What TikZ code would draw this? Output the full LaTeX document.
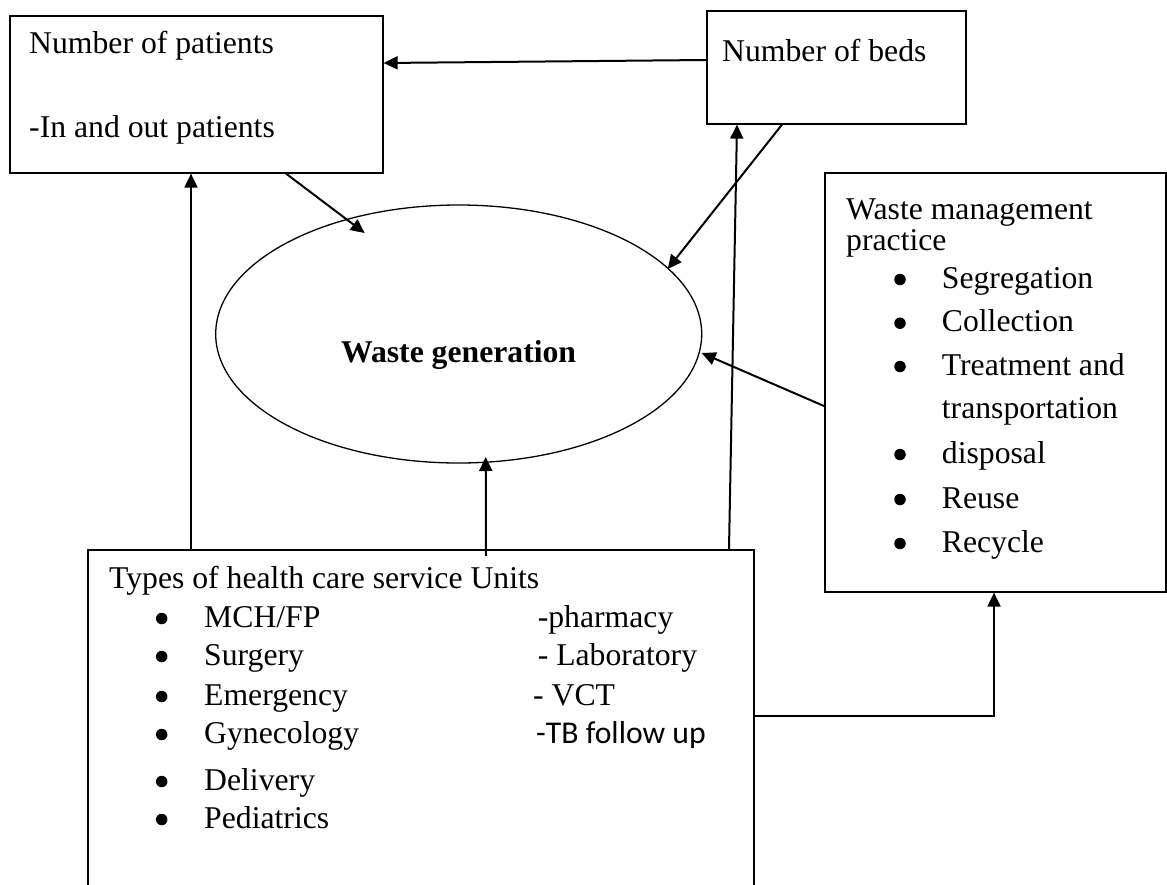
\documentclass[tikz,border=0pt]{standalone}
\usepackage{fontspec}
\setmainfont{Liberation Serif}
\newfontfamily\calibrifont{Carlito}
\usetikzlibrary{arrows.meta,shapes.geometric,calc}

\begin{document}
\begin{tikzpicture}[x=1pt,y=-1pt,
  box/.style={draw, line width=1.6pt, inner sep=0, anchor=north west},
  txt/.style={anchor=base west, inner sep=0, font=\fontsize{31.7}{38}\selectfont},
  arr/.style={line width=2pt, -{Triangle[length=14pt,width=13pt]}},
  bul/.style={circle, fill, inner sep=0, minimum size=11.5pt}]
\useasboundingbox (0,0) rectangle (1167,884);
\clip (0,0) rectangle (1167,884);

% boxes
\node[box, minimum width=373pt, minimum height=157pt] (pat) at (9,15) {};
\node[box, minimum width=259pt, minimum height=113pt] (beds) at (706,10) {};
\node[box, minimum width=341pt, minimum height=419pt] (wmp) at (824,172) {};
\node[box, minimum width=666pt, minimum height=400pt] (units) at (87,549) {};
\node[draw, ellipse, line width=1.3pt, inner sep=0,
      minimum width=486pt, minimum height=258pt] (gen) at (458.7,334) {};

% number of patients
\node[txt] (patA) at (29,53) {Number of patients};
\node[txt] (patB) at (29,137) {-In and out patients};

% number of beds
\node[txt] (bedsA) at (722,61) {Number of beds};

% waste generation
\node[txt, anchor=base, font=\fontsize{31.7}{38}\selectfont\bfseries] (genT) at (458.6,362) {Waste generation};

% waste management practice
\node[txt] (wmpA) at (846,219.5) {Waste management};
\node[txt] (wmpB) at (846,250) {practice};
\node[txt] (w1) at (941.7,288) {Segregation};
\node[txt] (w2) at (941.7,331.7) {Collection};
\node[txt] (w3) at (941.7,375) {Treatment and};
\node[txt] (w3b) at (941.7,418) {transportation};
\node[txt] (w4) at (941.7,463) {disposal};
\node[txt] (w5) at (941.7,508) {Reuse};
\node[txt] (w6) at (941.7,552) {Recycle};
\foreach \y [count=\i] in {288,331.7,375,463,508,552}
  \node[bul] (wb\i) at (900,\y-8.5) {};

% types of health care service units
\node[txt] (uT) at (109,588) {Types of health care service Units};
\node[txt] (u1) at (204,627) {MCH/FP};
\node[txt] (u2) at (204,665) {Surgery};
\node[txt] (u3) at (204,705) {Emergency};
\node[txt] (u4) at (204,743) {Gynecology};
\node[txt] (u5) at (204,790) {Delivery};
\node[txt] (u6) at (204,828) {Pediatrics};
\foreach \y [count=\i] in {627,665,705,743,790,828}
  \node[bul] (ub\i) at (161.7,\y-8.5) {};
\node[txt] (r1) at (537.6,627) {-pharmacy};
\node[txt] (r2) at (537.6,665) {- Laboratory};
\node[txt] (r3) at (533,705) {- VCT};
\node[txt, font=\fontsize{31.7}{38}\calibrifont] (r4) at (536,743) {-TB follow up};

% connectors
\draw[arr] ($(beds.north west)+(0,50)$) -- ($(pat.north east)+(0,48)$);
\draw[arr] ($(beds.south west)+(76,0)$) -- ($(gen.center)+(209,-65)$);
\draw[arr] ($(units.north west)+(642,0)$) -- ($(beds.south west)+(31,0)$);
\draw[arr] ($(pat.south west)+(277,0)$) -- ($(gen.center)+(-94,-101)$);
\draw[arr] ($(units.north west)+(104,0)$) -- ($(pat.south west)+(182,0)$);
\draw[arr] ($(units.north west)+(399,7)$) -- ($(gen.center)+(27,123)$);
\draw[arr] ($(wmp.north west)+(0,234)$) -- ($(gen.center)+(243,19)$);
\draw[arr] ($(units.north east)+(0,167)$) -| ($(wmp.south west)+(170,0)$);
\end{tikzpicture}
\end{document}
